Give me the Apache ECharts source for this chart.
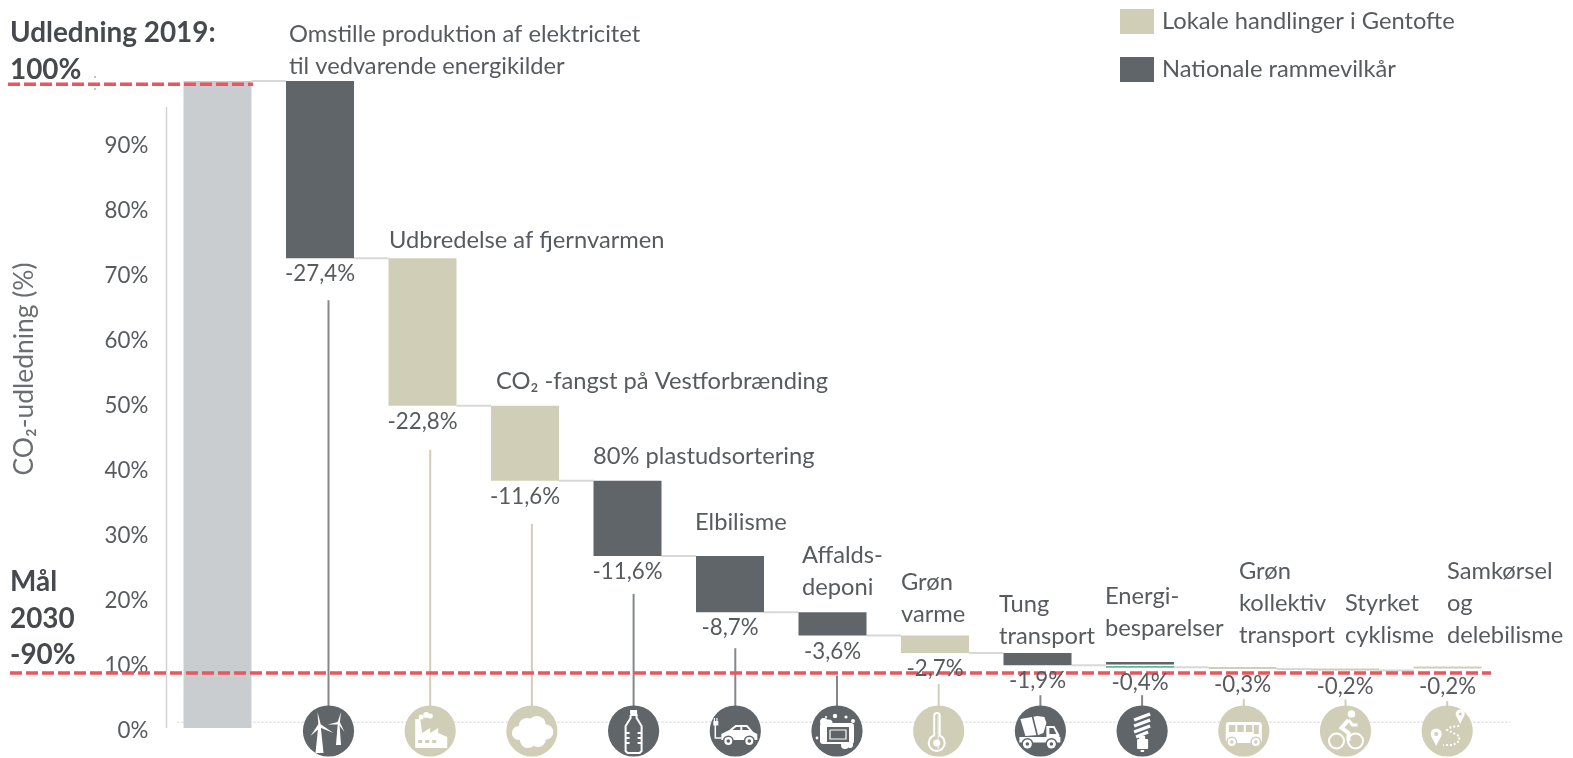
<!DOCTYPE html>
<html>
<head>
<meta charset="utf-8">
<style>html,body{margin:0;padding:0;background:#fff}#c{width:1573px;height:758px}</style>
<script src="https://cdn.jsdelivr.net/npm/echarts@6/dist/echarts.min.js"></script>
</head>
<body>
<div id="c"></div>
<script>
// ---------- data ----------
const categories = ['Udledning 2019','Omstille produktion','Fjernvarme','CO2-fangst','Plastudsortering','Elbilisme','Affaldsdeponi','Grøn varme','Tung transport','Energibesparelser','Grøn kollektiv transport','Styrket cyklisme','Samkørsel og delebilisme'];
const kinds = ['total','national','local','local','national','national','national','local','national','national','local','local','local'];
const barHeights = [100,27.4,22.8,11.6,11.6,8.7,3.6,2.7,1.9,0.4,0.3,0.2,0.2];
const barTops = [100,100,72.6,49.8,38.2,26.6,17.9,14.3,11.6,10.2,9.4,9.1,9.4];
const endLevels = [100,72.6,49.8,38.2,26.6,17.9,14.3,11.6,9.7,9.4,9.1,8.9,8.8];
const goalLevels = [99.5,8.5];
const accentLevel = 9.45;
const tickValues = [0,10,20,30,40,50,60,70,80,90];
const legendNames = ['Lokale handlinger i Gentofte','Nationale rammevilkår'];
const axisTitle = 'CO₂-udledning (%)';
const headings = ['Udledning 2019:\n100%','Mål\n2030\n-90%'];
const annotations = [
 'Omstille produktion af elektricitet\ntil vedvarende energikilder',
 'Udbredelse af fjernvarmen',
 'CO₂ -fangst på Vestforbrænding',
 '80% plastudsortering',
 'Elbilisme',
 'Affalds-\ndeponi',
 'Grøn\nvarme',
 'Tung\ntransport',
 'Energi-\nbesparelser',
 'Grøn\nkollektiv\ntransport',
 'Styrket\ncyklisme',
 'Samkørsel\nog\ndelebilisme'];

// ---------- layout & style ----------
const annotationAnchors = [[289,18],[389,224],[496,365],[593,440],[695,506],[802,539],[901,566],[999,588],[1105,580],[1239,555],[1345,587],[1447,555]];
const headingAnchors = [[10,15],[10,564]];
const leaderGaps = [42,44,43,38,36,40,31,30,28,30,29,30];
const COL = {total:'#c9cdd0',national:'#5f6569',local:'#d1ceb8',text:'#575b5f',red:'#ea5660',conn:'#d8d8d8',green:'#5fb898'};
const FONT = 'Lato';
const fontBody = 23.7, fontBold = 27.9, fontTick = 22.3;
const BAR_W = 68, STEP = 102.5, ICON_STEP = 101.7, ICON_LEVEL = -0.46, ICON_R = 25.6;
const pick = k => kinds.map((t,i)=> t===k ? barHeights[i] : '-');

// ---------- icon glyphs (local pixels around the disc centre) ----------
const W = '#fff';
const C=(cx,cy,r,f)=>({type:'circle',shape:{cx,cy,r},style:{fill:f||W}});
const R=(x,y,w,h,f,r)=>({type:'rect',shape:{x,y,width:w,height:h,r:r||0},style:{fill:f||W}});
const P=(pts,f)=>({type:'polygon',shape:{points:pts},style:{fill:f||W}});
const L=(pts,lw,s,dash)=>({type:'polyline',shape:{points:pts},style:{stroke:s||W,lineWidth:lw,fill:null,lineDash:dash||null}});
const RING=(cx,cy,r,lw)=>({type:'circle',shape:{cx,cy,r},style:{fill:null,stroke:W,lineWidth:lw}});
const glyphs = [
 b=>[P([[-10.2,-5],[-7.8,-5],[-5,22],[-13,22]]),P([[-11,-19],[-7.6,-6],[-10,-4]]),P([[5,2],[-7.5,-6.5],[-8.5,-3.5]]),P([[-18,5],[-10,-7],[-7.6,-4]]),C(-9,-5,1.8),
      P([[9.2,-7],[11,-7],[12.5,14],[7.5,14]]),P([[12.5,-19],[8.8,-8],[11.2,-7]]),P([[-1,-6.5],[9.5,-9],[10,-6.5]]),P([[16,1],[9,-8],[11.5,-8.5]]),C(10,-8,1.4)],
 b=>[P([[-15,-12],[-10,-12],[-8,2],[0,-3],[0,2],[8,-3],[8,2],[17,6],[17,17],[-15,17]]),R(-12,9,4,3,b),R(-5,9,4,3,b),R(2,9,4,3,b),C(-9,-14,2.5),C(-4,-16,3),C(0,-15,2.6)],
 b=>[C(-13,2,7),C(-5,-5,8),C(5,-6,9),C(14,1,7.5),C(6,8,8),C(-4,9,8),C(0,1,12)],
 b=>[R(-3.5,-21,7,4.5),L([[-3,-16],[-3,-13],[-8,-5],[-8,20],[-6,22],[6,22],[8,20],[8,-5],[3,-13],[3,-16],[-3,-16]],2),L([[-8,2],[-4,2]],2),L([[-8,7],[-4,7]],2),L([[-8,12],[-4,12]],2),L([[8,2],[4,2]],2),L([[8,7],[4,7]],2),L([[8,12],[4,12]],2)],
 b=>[P([[-14,9],[-14,3],[-6,-1],[0,-6],[12,-6],[18,1],[22,3],[22,9]]),P([[-3,-1],[1,-4],[5,-4],[5,-1]],b),P([[7,-4],[11,-4],[14,-1],[7,-1]],b),C(-7,10,5.5,b),C(14,10,5.5,b),C(-7,10,4),C(14,10,4),C(-7,10,1.8,b),C(14,10,1.8,b),L([[-14,7],[-20,7],[-20,-6]],1.5),R(-22,-10,5,4.5),R(-21.5,-13,1.2,3),R(-19,-13,1.2,3)],
 b=>[C(-13,-9,4),C(-8,-8,3.5),R(-17,-8,34,21,W,3),C(8,14,4),C(13,14,3),R(-10,-4,22,15,b),L([[-7,-1],[9,-1],[9,8],[-7,8],[-7,-1]],1.2),R(-3,1,8,5,b),C(-2,-15,2.2),C(9,-14,1.6),C(-11,-14,1.1),C(16,-10,2),C(-20,7,1.4)],
 b=>[R(-5.5,-19,7.5,30,W,3.7),C(-2,12,9),R(-3.5,-17,3.5,28,b,1.7),C(-2,12,7,b),P([[-1,-15],[-0.2,-15],[-0.2,18],[-1,18]]),C(-2,12,3.5)],
 b=>[P([[-20,-12],[-3,-15],[4,-14],[6,-8],[3,2],[-2,4],[-15,5]]),L([[-8,-15],[-3,5]],1.6,b),R(-21,6,41,5.5),P([[6,-5],[14,-5],[19,4],[19,11],[6,11]]),P([[9,-3],[13,-3],[16,3],[9,3]],b),C(-13,13,6,b),C(11,13,6,b),C(-13,13,4.5),C(11,13,4.5),C(-13,13,1.8,b),C(11,13,1.8,b)],
 b=>[L([[-8,-11],[8,-17]],3.4),L([[-8,-5],[8,-11]],3.4),L([[-8,1],[8,-5]],3.4),L([[-6,6],[6,1]],3.4),R(-3,5,6,3),R(-5,8,11,10,W,1),R(-1.5,19,3.5,2)],
 b=>[R(-18,-9,36,21,W,3),R(-15,-6,6.5,7,b),R(-6.5,-6,6.5,7,b),R(2,-6,6.5,7,b),R(10,-6,5,9,b),C(-12,11,5.5,b),C(12,11,5.5,b),C(-12,11,4),C(12,11,4),C(-12,11,1.8,b),C(12,11,1.8,b)],
 b=>[RING(-9,10,7.5,2),RING(10,10,7.5,2),C(6,-17,3.8),L([[3,-11],[-4,-3],[3,2],[3,10]],4),L([[3,-11],[7,-6],[12,-6]],3)],
 b=>[C(13,-17,4.5),P([[9,-15.5],[17,-15.5],[13,-7]]),C(13,-17,1.6,b),C(-11,3,5.5),P([[-16,5],[-6,5],[-11,15]]),C(-11,3,2,b),L([[12,-5],[4,-4],[0,-1],[12,5],[12,10],[6,14],[-4,14]],2,W,[2,2])]
];

// ---------- render helpers ----------
const textStyle = (text,size,weight)=>({text,fontFamily:FONT,fontSize:size,fontWeight:weight,fill:COL.text});
const goalRanges = [[8,253],[10,1491]];

function renderConnector(params,api){
  const i = api.value(0);
  const a = api.coord([i,endLevels[i]]), b = api.coord([i+1,endLevels[i]]);
  return {type:'line',shape:{x1:a[0]+BAR_W/2,y1:a[1],x2:b[0]-BAR_W/2,y2:b[1]},style:{stroke:COL.conn,lineWidth:2}};
}
function renderAccent(params,api){
  const c = api.coord([api.value(0),api.value(1)]);
  return {type:'line',shape:{x1:c[0]-BAR_W/2,y1:c[1],x2:c[0]+BAR_W/2,y2:c[1]},style:{stroke:COL.green,lineWidth:1.6}};
}
function renderLabel(params,api){
  const i = api.value(0), p = api.coord([i,endLevels[i]]);
  const txt = '-'+barHeights[i].toFixed(1).replace('.',',')+'%';
  return {type:'text',x:p[0],y:p[1]+16,style:Object.assign(textStyle(txt,fontTick,400),{textAlign:'center',textVerticalAlign:'middle'})};
}
function renderLeader(params,api){
  const j = api.value(0), top = api.coord([j,endLevels[j+1]]), bot = api.coord([j,ICON_LEVEL]);
  const k = kinds[j+1];
  return {type:'line',shape:{x1:top[0],y1:top[1]+leaderGaps[j],x2:bot[0],y2:bot[1]-ICON_R+2},style:{stroke:k==='local'?COL.local:'#84888b',lineWidth:2}};
}
function renderIcon(params,api){
  const j = api.value(0), c = api.coord([j,ICON_LEVEL]);
  const bg = kinds[j+1]==='local'?COL.local:COL.national;
  return {type:'group',x:c[0],y:c[1],children:[C(0,0,ICON_R,bg)].concat(glyphs[j](bg))};
}
function renderGoal(params,api){
  const i = params.dataIndex, y = api.coord([0,api.value(1)])[1];
  return {type:'line',shape:{x1:goalRanges[i][0],y1:y,x2:goalRanges[i][1],y2:y},style:{stroke:COL.red,lineWidth:3.4,lineDash:[12,4]}};
}
function renderAxisRule(params,api){
  const a = api.coord([0,96]), b = api.coord([0,0]);
  return {type:'line',shape:{x1:a[0]-51,y1:a[1],x2:b[0]-51,y2:b[1]},style:{stroke:'#cfd1d2',lineWidth:1.5}};
}
function renderBaseline(params,api){
  const y = api.coord([0,0.9])[1], a = api.coord([0,0])[0];
  return {type:'line',shape:{x1:a-40,y1:y,x2:a+1293,y2:y},style:{stroke:'#cfcfcf',lineWidth:1,lineDash:[2,2]}};
}
const idx = a => a.map((_,i)=>[i,i]);

const graphicEls = [];
annotations.forEach((t,i)=>graphicEls.push({type:'text',x:annotationAnchors[i][0],y:annotationAnchors[i][1],z:20,silent:true,
  style:Object.assign(textStyle(t,fontBody,400),{lineHeight:32,textVerticalAlign:'top'})}));
headings.forEach((t,i)=>graphicEls.push({type:'text',x:headingAnchors[i][0],y:headingAnchors[i][1],z:20,silent:true,
  style:Object.assign(textStyle(t,fontBold,700),{lineHeight:36.5,textVerticalAlign:'top',fill:'#46494d'})}));
graphicEls.push({type:'text',x:24,y:369,rotation:Math.PI/2,z:20,silent:true,
  style:Object.assign(textStyle(axisTitle,26.4,400),{textAlign:'center',textVerticalAlign:'middle',fill:'#6a6e72'})});
[[95,77],[95,89]].forEach(p=>graphicEls.push({type:'circle',shape:{cx:p[0],cy:p[1],r:0.8},style:{fill:'#777'},z:20,silent:true}));

const chart = echarts.init(document.getElementById('c'),null,{renderer:'canvas'});
const hiddenX = (gridIndex,n)=>({type:'category',gridIndex,show:false,data:n===13?categories:categories.slice(1),boundaryGap:true});
const bar = (name,key)=>({name,type:'bar',stack:'w',xAxisIndex:0,yAxisIndex:0,barWidth:BAR_W,barMinHeight:2,data:pick(key),itemStyle:{color:COL[key]},z:2,silent:true});
chart.setOption({
  animation:false,
  backgroundColor:'#fff',
  grid:[
    {left:217.5-STEP/2,top:81,width:STEP*13,height:647},
    {left:217.5-STEP/2,top:81,width:STEP*13,height:650},
    {left:328.5-ICON_STEP/2,top:81,width:ICON_STEP*12,height:647}
  ],
  xAxis:[hiddenX(0,13),hiddenX(1,13),hiddenX(2,12)],
  yAxis:[
    {type:'value',gridIndex:0,min:0,max:100,show:false},
    {type:'value',gridIndex:1,min:0,max:100,interval:10,splitLine:{show:false},axisLine:{show:false},axisTick:{show:false},
     axisLabel:{margin:18,fontFamily:FONT,fontWeight:400,fontSize:fontTick,color:COL.text,
       formatter:v=>tickValues.indexOf(v)>=0?v+'%':''}},
    {type:'value',gridIndex:2,min:0,max:100,show:false}
  ],
  legend:{left:1120,top:9,orient:'vertical',padding:0,itemWidth:34,itemHeight:25,itemGap:23,icon:'rect',data:legendNames,selectedMode:false,
    textStyle:{fontFamily:FONT,fontWeight:400,fontSize:fontBody,color:COL.text,padding:[0,0,0,3]}},
  graphic:graphicEls,
  series:[
    {name:'base',type:'bar',stack:'w',barWidth:BAR_W,data:barTops.map((t,i)=>+(t-barHeights[i]).toFixed(2)),itemStyle:{color:'transparent'},silent:true},
    bar('Udledning','total'),
    bar(legendNames[0],'local'),
    bar(legendNames[1],'national'),
    {type:'custom',name:'rule',renderItem:renderAxisRule,data:[[0,0]],z:1,silent:true},
    {type:'custom',name:'baseline',renderItem:renderBaseline,data:[[0,0]],z:1,silent:true},
    {type:'custom',name:'connectors',renderItem:renderConnector,data:idx(endLevels.slice(0,-1)),z:1,silent:true},
    {type:'custom',name:'accent',renderItem:renderAccent,data:[[9,accentLevel]],z:2,silent:true},
    {type:'custom',name:'leaders',xAxisIndex:2,yAxisIndex:2,renderItem:renderLeader,data:idx(endLevels.slice(1)),z:3,silent:true},
    {type:'custom',name:'goals',renderItem:renderGoal,data:goalLevels.map((v,i)=>[i,v]),z:4,silent:true},
    {type:'custom',name:'values',renderItem:renderLabel,data:idx(endLevels).slice(1),z:5,silent:true},
    {type:'custom',name:'icons',xAxisIndex:2,yAxisIndex:2,renderItem:renderIcon,data:idx(endLevels.slice(1)),z:6,silent:true}
  ]
});
</script>
</body>
</html>
